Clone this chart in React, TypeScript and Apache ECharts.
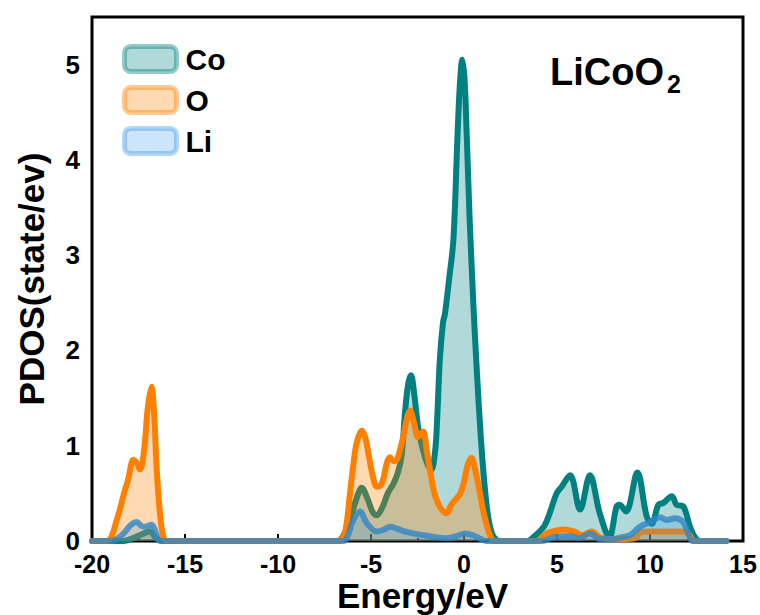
import React, { useEffect, useRef } from "react";
import * as echarts from "echarts";

const SERIES_NAMES = ["Co", "O", "Li"];
const X_TICKS = { min: -20, max: 15, step: 5 };
const Y_TICKS = { min: 0, max: 5.5, step: 1 };

// [energy (eV), PDOS (state/eV)]
const CO_PDOS: [number, number][] = [
  [-20, 0], [-18.3, 0], [-17.8, 0.03], [-17.2, 0.08], [-16.9, 0.1], [-16.55, 0.03], [-16.2, 0],
  [-6.8, 0], [-6.5, 0.05], [-6.1, 0.25], [-5.77, 0.45], [-5.5, 0.56], [-5.2, 0.45], [-4.9, 0.3],
  [-4.69, 0.27], [-4.4, 0.35], [-4.1, 0.5], [-3.8, 0.6], [-3.55, 0.72], [-3.35, 0.9], [-3.17, 1.35],
  [-3.0, 1.65], [-2.85, 1.74], [-2.68, 1.55], [-2.47, 1.2], [-2.2, 0.95], [-1.95, 0.8], [-1.75, 0.75],
  [-1.55, 0.95], [-1.45, 1.25], [-1.3, 1.9], [-1.13, 2.29], [-1.02, 2.39], [-0.8, 2.75], [-0.57, 3.16],
  [-0.36, 4.2], [-0.22, 4.8], [-0.09, 5.05], [0.03, 4.85], [0.14, 4.3], [0.3, 3.4], [0.5, 2.5],
  [0.7, 1.75], [0.9, 1.1], [1.1, 0.6], [1.3, 0.25], [1.5, 0.08], [1.7, 0.02], [1.9, 0],
  [3.4, 0], [3.73, 0.04], [4.35, 0.17], [4.98, 0.5], [5.25, 0.57], [5.7, 0.69], [6.24, 0.33],
  [6.77, 0.69], [7.3, 0.29], [7.81, 0.04], [8.2, 0.36], [8.35, 0.38], [8.71, 0.31], [9.32, 0.72],
  [9.82, 0.26], [10.09, 0.18], [10.45, 0.38], [10.72, 0.4], [11.17, 0.47], [11.43, 0.38],
  [11.8, 0.36], [12.15, 0.15], [12.42, 0.04], [12.7, 0], [14.1, 0],
];

const O_PDOS: [number, number][] = [
  [-20, 0], [-19.2, 0], [-18.94, 0.05], [-18.7, 0.2], [-18.5, 0.33], [-18.32, 0.47], [-18.05, 0.65],
  [-17.78, 0.85], [-17.6, 0.82], [-17.42, 0.75], [-17.2, 0.95], [-17.0, 1.4], [-16.8, 1.62],
  [-16.65, 1.3], [-16.52, 0.75], [-16.35, 0.3], [-16.2, 0.08], [-16.0, 0],
  [-6.8, 0], [-6.49, 0.04], [-6.3, 0.2], [-6.13, 0.5], [-5.95, 0.8], [-5.77, 1.03], [-5.5, 1.16],
  [-5.3, 1.08], [-5.14, 0.92], [-4.9, 0.68], [-4.69, 0.57], [-4.5, 0.58], [-4.34, 0.65],
  [-4.15, 0.82], [-3.98, 0.88], [-3.8, 0.84], [-3.62, 0.85], [-3.45, 0.95], [-3.26, 1.1],
  [-3.05, 1.3], [-2.9, 1.37], [-2.7, 1.25], [-2.46, 1.09], [-2.3, 1.13], [-2.19, 1.15], [-2.0, 0.95],
  [-1.83, 0.75], [-1.65, 0.55], [-1.47, 0.43], [-1.2, 0.33], [-0.93, 0.29], [-0.75, 0.36],
  [-0.57, 0.41], [-0.35, 0.46], [-0.2, 0.5], [0.0, 0.62], [0.2, 0.8], [0.41, 0.87], [0.6, 0.75],
  [0.86, 0.5], [1.05, 0.3], [1.22, 0.17], [1.4, 0.06], [1.6, 0],
  [3.9, 0], [4.45, 0.08], [5.0, 0.11], [5.34, 0.12], [5.9, 0.1], [6.33, 0.06], [6.87, 0.1],
  [7.3, 0.04], [7.9, 0.02], [8.5, 0.02], [9.2, 0.03], [9.5, 0.09], [10, 0.1], [11, 0.1],
  [11.8, 0.1], [12.1, 0.07], [12.4, 0], [14.1, 0],
];

const LI_PDOS: [number, number][] = [
  [-20, 0], [-18.9, 0], [-18.67, 0.02], [-18.3, 0.08], [-17.9, 0.17], [-17.6, 0.2], [-17.35, 0.16],
  [-17.15, 0.15], [-16.8, 0.17], [-16.55, 0.08], [-16.34, 0],
  [-6.5, 0], [-6.3, 0.03], [-5.95, 0.22], [-5.59, 0.31], [-5.23, 0.19], [-4.69, 0.1], [-4.3, 0.12],
  [-3.98, 0.15], [-3.6, 0.13], [-3.2, 0.1], [-2.73, 0.08], [-1.83, 0.05], [-0.93, 0.03], [-0.4, 0.05],
  [0.04, 0.08], [0.5, 0.06], [0.9, 0.02], [1.2, 0],
  [4.2, 0], [4.8, 0.04], [5.7, 0.05], [6.2, 0.03], [6.77, 0.08], [7.3, 0.02], [8.0, 0.02],
  [8.5, 0.04], [8.92, 0.06], [9.46, 0.15], [10.0, 0.2], [10.54, 0.25], [10.9, 0.22], [11.34, 0.24],
  [11.79, 0.2], [12.06, 0.08], [12.3, 0], [14.1, 0],
];

const FONT = "'Liberation Sans', Arial, sans-serif";

const STYLES = [
  { line: "#008080", lineOpacity: 1, fill: "rgba(0,128,128,0.3)", border: "rgba(0,128,128,0.42)" },
  { line: "#ff8000", lineOpacity: 1, fill: "rgba(255,128,0,0.3)", border: "rgba(255,128,0,0.42)" },
  { line: "#2f86c6", lineOpacity: 0.8, fill: "rgba(50,150,230,0.25)", border: "rgba(50,150,230,0.38)" },
];

export default function App() {
  const ref = useRef<HTMLDivElement>(null);
  useEffect(() => {
    if (!ref.current) return;
    const chart = echarts.init(ref.current, null, { renderer: "svg" });
    const datasets = [CO_PDOS, O_PDOS, LI_PDOS];
    chart.setOption({
      animation: false,
      backgroundColor: "#fff",
      grid: {
        left: 92,
        top: 17,
        right: 17,
        bottom: 74,
        outerBoundsMode: "none",
        containLabel: false,
        show: true,
        borderColor: "#000",
        borderWidth: 3,
        backgroundColor: "transparent",
      },
      legend: {
        orient: "vertical",
        left: 117,
        top: 39,
        icon: "roundRect",
        itemWidth: 52,
        itemHeight: 25,
        itemGap: 11,
        textStyle: {
          fontFamily: FONT,
          fontWeight: "bold",
          fontSize: 30,
          color: "#000",
          padding: [0, 0, 0, 4],
        },
        data: SERIES_NAMES.map((n, i) => ({
          name: n,
          itemStyle: {
            color: STYLES[i].fill,
            borderColor: STYLES[i].border,
            borderWidth: 5,
          },
        })),
      },
      xAxis: {
        type: "value",
        min: X_TICKS.min,
        max: X_TICKS.max,
        interval: X_TICKS.step,
        name: "Energy/eV",
        nameLocation: "middle",
        nameGap: 37,
        nameMoveOverlap: false,
        nameTextStyle: {
          fontFamily: FONT,
          fontWeight: "bold",
          fontSize: 35,
          lineHeight: 35,
          color: "#000",
          padding: [0, 0, 0, 10],
        },
        axisLine: { show: false },
        axisTick: { show: true, inside: true, length: 7, lineStyle: { color: "#000", width: 2 } },
        minorTick: { show: true, splitNumber: 2, length: 3, lineStyle: { color: "#000", width: 2 } },
        splitLine: { show: false },
        axisLabel: {
          fontFamily: FONT,
          fontWeight: "bold",
          fontSize: 25,
          lineHeight: 20,
          color: "#000",
          margin: 13,
        },
      },
      yAxis: {
        type: "value",
        min: Y_TICKS.min,
        max: Y_TICKS.max,
        interval: Y_TICKS.step,
        name: "PDOS(state/ev)",
        nameLocation: "middle",
        nameGap: 43,
        nameMoveOverlap: false,
        nameTextStyle: {
          fontFamily: FONT,
          fontWeight: "bold",
          fontSize: 35,
          color: "#000",
        },
        axisLine: { show: false },
        axisTick: { show: false },
        splitLine: { show: false },
        axisLabel: {
          fontFamily: FONT,
          fontWeight: "bold",
          fontSize: 26,
          lineHeight: 20,
          color: "#000",
          margin: 12,
          showMaxLabel: false,
        },
      },
      graphic: [
        {
          type: "text",
          left: 550,
          top: 53,
          style: {
            text: "LiCoO",
            font: `bold 38px ${FONT}`,
            fill: "#000",
          },
        },
        {
          type: "text",
          left: 667,
          top: 71,
          style: {
            text: "2",
            font: `bold 25px ${FONT}`,
            fill: "#000",
          },
        },
      ],
      series: SERIES_NAMES.map((n, i) => ({
        name: n,
        type: "line",
        data: datasets[i],
        smooth: 0.35,
        showSymbol: false,
        symbol: "none",
        lineStyle: {
          color: STYLES[i].line,
          width: 6,
          opacity: STYLES[i].lineOpacity,
          join: "round",
          cap: "round",
        },
        itemStyle: { color: STYLES[i].line },
        areaStyle: { color: STYLES[i].fill, opacity: 1 },
        z: 2 + i,
      })),
    });
    return () => chart.dispose();
  }, []);
  return (
    <div
      ref={ref}
      style={{ position: "fixed", left: 0, top: 0, width: 760, height: 615 }}
    />
  );
}
